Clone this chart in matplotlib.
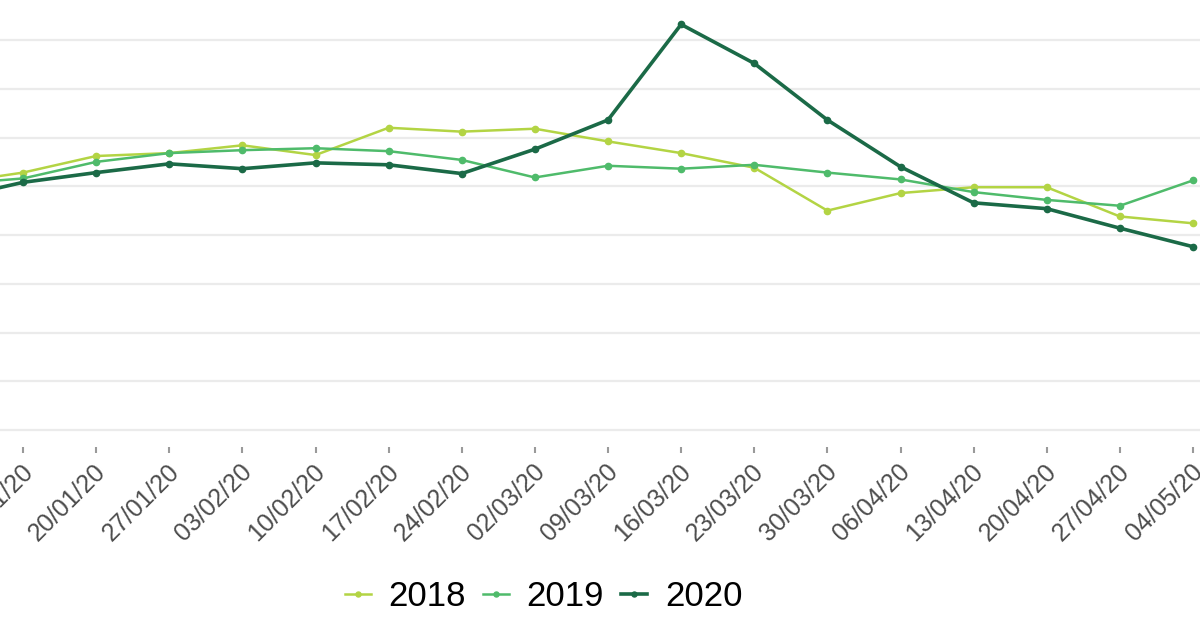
import matplotlib
matplotlib.use('Agg')
import matplotlib.pyplot as plt
import matplotlib.transforms as mtransforms

# weekly dates (first week sits off the left edge of the crop)
weeks = ['06/01/20', '13/01/20', '20/01/20', '27/01/20', '03/02/20', '10/02/20',
         '17/02/20', '24/02/20', '02/03/20', '09/03/20', '16/03/20', '23/03/20',
         '30/03/20', '06/04/20', '13/04/20', '20/04/20', '27/04/20', '04/05/20']

# values (y axis labels are cropped, so units are arbitrary)
y2018 = [253, 264, 281, 284, 292, 282, 310, 306, 309, 296, 284, 269,
         225, 243, 249, 249, 219, 212]
y2019 = [252, 258, 275, 284, 287, 289, 286, 277, 259, 271, 268, 272,
         264, 257, 244, 236, 230, 256]
y2020 = [237, 254, 264, 273, 268, 274, 272, 263, 288, 318, 416, 376,
         318, 270, 233, 227, 207, 188]

col2018 = '#b3d444'
col2019 = '#4fbb6b'
col2020 = '#1b6a47'

plt.rcParams['font.family'] = ['Liberation Sans', 'DejaVu Sans']

fig = plt.figure(figsize=(12, 6.3), dpi=100)
# axes run past the crop on the left, top and right
ax = fig.add_axes([0, 1 - 447 / 630, 1, 447 / 630])

x = list(range(len(weeks)))
ax.plot(x, y2018, color=col2018, lw=1.8, marker='o', ms=4.5, label='2018', zorder=3)
ax.plot(x, y2019, color=col2019, lw=1.8, marker='o', ms=4.5, label='2019', zorder=4)
ax.plot(x, y2020, color=col2020, lw=2.6, marker='o', ms=4.5, label='2020', zorder=5)

ax.set_yticks(range(0, 450, 50))
ax.yaxis.grid(True, color='#ebebeb', lw=1.6)
ax.set_axisbelow(True)
ax.tick_params(axis='y', left=False, labelleft=False)

ax.set_xticks(x)
ax.set_xticklabels(weeks, rotation=45, ha='right', va='center',
                   rotation_mode='anchor', fontsize=18, color='#4d4d4d')
ax.tick_params(axis='x', length=4, width=1.5, color='#9a9a9a', pad=11)
shift = mtransforms.ScaledTranslation(6 / 100, 0, fig.dpi_scale_trans)
for lab in ax.get_xticklabels():
    lab.set_transform(lab.get_transform() + shift)

# 13/01 at pixel 23, 04/05 at pixel 1193 (set after ticks so they don't widen it)
step = 1170 / 16
ax.set_xlim(1 - 23 / step, 1 + 1177 / step)
scale = 50 / 48.75
ax.set_ylim(-17 * scale, 430 * scale)

for s in ax.spines.values():
    s.set_visible(False)

fig.legend(loc='center', bbox_to_anchor=(0.453, 1 - 597 / 630), ncol=3,
           frameon=False, fontsize=25, handlelength=0.75, handletextpad=0.5,
           columnspacing=0.5, markerscale=0.8)

fig.savefig('out.png', dpi=100)
